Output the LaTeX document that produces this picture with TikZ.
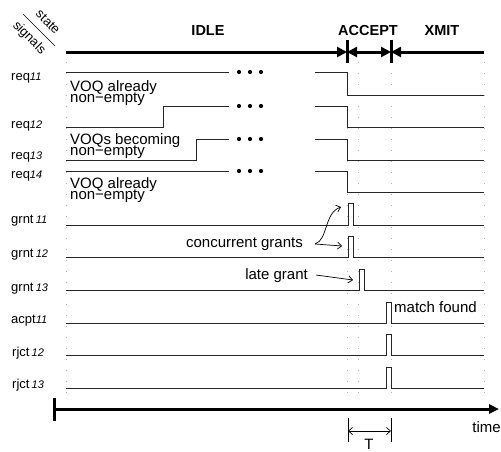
\documentclass[tikz,border=0pt]{standalone}
\usepackage{fontspec}
\setmainfont{Liberation Sans}
\usetikzlibrary{arrows.meta}
\newcommand\sigsub[1]{{\fontsize{11}{13}\selectfont\itshape #1}}
\begin{document}
\begin{tikzpicture}[x=1pt,y=-1pt,
  sig/.style={line width=0.9pt, black!85},
  gridline/.style={gray!60, line width=0.8pt, dash pattern=on 0.8pt off 10.2pt},
  lbl/.style={anchor=base west, inner sep=0pt, font=\fontsize{13}{15}\selectfont},
  ann/.style={anchor=base west, inner sep=0pt, font=\fontsize{15}{16}\selectfont},
  hdr/.style={anchor=base, inner sep=0pt, font=\fontsize{14.5}{16}\selectfont\bfseries},
  heavy/.style={line width=3pt},
  tri/.tip={Triangle[length=10pt,width=10pt]},
  sb/.tip={Straight Barb[length=4pt,width=7pt]},
  barb/.style={-{sb}, line width=0.7pt},
  dot/.style={circle, fill, inner sep=0pt, minimum size=4.2pt}
]
\useasboundingbox (0,0) rectangle (501,451);

% dotted grid
\foreach \x in {66,347,358,391,484} \draw[gridline] (\x,62) -- (\x,401);

% corner labels
\draw[line width=0.7pt] (23,14) -- (55,46);
\node[rotate=-45, inner sep=0pt, font=\fontsize{13}{15}\selectfont] (lstate) at (48,22) {state};
\node[rotate=-45, inner sep=0pt, font=\fontsize{13}{15}\selectfont] (lsignals) at (29,38) {signals};

% headers
\node[hdr] (hidle) at (208,35) {IDLE};
\node[hdr] (hacc) at (368,35) {ACCEPT};
\node[hdr] (hxmit) at (442,35) {XMIT};

% state line
\draw[heavy, -{tri}] (66,52) -- (347,52);
\draw[heavy, {tri}-{tri}] (347,52) -- (391,52);
\draw[heavy, {tri}-] (391,52) -- (484,52);
\draw[heavy] (347,40) -- (347,63);
\draw[heavy] (391,40) -- (391,63);

% signal labels
\node[lbl] (lreq11) at (11,80) {req\sigsub{11}};
\node[lbl] (lreq12) at (11,128) {req\sigsub{12}};
\node[lbl] (lreq13) at (11,159) {req\sigsub{13}};
\node[lbl] (lreq14) at (11,178) {req\sigsub{14}};
\node[lbl] (lg11) at (11,223) {grnt\,\sigsub{11}};
\node[lbl] (lg12) at (11,257) {grnt\,\sigsub{12}};
\node[lbl] (lg13) at (11,291) {grnt\,\sigsub{13}};
\node[lbl] (la11) at (11,323) {acpt\sigsub{11}};
\node[lbl] (lr12) at (12,356) {rjct\,\sigsub{12}};
\node[lbl] (lr13) at (12,388) {rjct\,\sigsub{13}};

% request waveforms
\draw[sig] (66,72) -- (229,72);
\draw[sig] (315,72) -- (347,72) -- (347,95) -- (484,95);
\draw[sig] (66,127) -- (163,127) -- (163,106) -- (229,106);
\draw[sig] (315,106) -- (347,106) -- (347,127) -- (484,127);
\draw[sig] (66,160) -- (196,160) -- (196,139) -- (229,139);
\draw[sig] (315,139) -- (347,139) -- (347,160) -- (484,160);
\draw[sig] (66,171) -- (229,171);
\draw[sig] (315,171) -- (347,171) -- (347,192) -- (484,192);
\foreach \y in {72,106,139,171}
  \foreach \x in {239,250,261} \node[dot] at (\x,\y) {};

% grant / accept / reject waveforms
\draw[sig] (66,225) -- (348,225) -- (348,203) -- (353,203) -- (353,225) -- (484,225);
\draw[sig] (66,257) -- (348,257) -- (348,236) -- (353,236) -- (353,257) -- (484,257);
\draw[sig] (66,290) -- (359,290) -- (359,269) -- (364,269) -- (364,290) -- (484,290);
\draw[sig] (66,323) -- (386,323) -- (386,302) -- (391,302) -- (391,323) -- (484,323);
\draw[sig] (66,355) -- (386,355) -- (386,334) -- (391,334) -- (391,355) -- (484,355);
\draw[sig] (66,388) -- (386,388) -- (386,367) -- (391,367) -- (391,388) -- (484,388);

% annotations
\node[ann] (voq1a) at (70,91) {VOQ already};
\node[ann] (voq1b) at (70,102) {non−empty};
\node[ann] (voq2a) at (70,144) {VOQs becoming};
\node[ann] (voq2b) at (70,155) {non−empty};
\node[ann] (voq3a) at (70,188) {VOQ already};
\node[ann] (voq3b) at (70,199) {non−empty};
\node[ann, anchor=base east] (cg) at (303,247) {concurrent grants};
\node[ann, anchor=base east] (lg) at (308,279) {late grant};
\node[ann] (mf) at (394,312) {match found};

\coordinate (cgtip1) at (342,246);
\coordinate (cgtip2) at (341,207);
\coordinate (lgtip) at (353,280);
\draw[barb] ([xshift=12pt,yshift=3pt]cg.base east) -- (cgtip1);
\draw[barb] ([xshift=12pt,yshift=3pt]cg.base east) .. controls (328,240) and (324,213) .. (cgtip2);
\draw[barb] ([xshift=8pt,yshift=4pt]lg.base east) -- (lgtip);

% time axis
\draw[heavy, -{Triangle[length=10pt,width=9pt]}] (54,409) -- (499,409);
\draw[heavy] (54,398) -- (54,421);
\node[ann, anchor=base east] (ltime) at (501,432) {time};

% T dimension
\draw[line width=0.8pt] (348,418) -- (348,442);
\draw[line width=0.8pt] (391,418) -- (391,442);
\coordinate (ta) at (348,431);
\coordinate (tb) at (391,431);
\draw[{sb}-{sb}, line width=0.7pt] (ta) -- (tb);
\node[ann, anchor=base] (lT) at (369,449) {T};
\end{tikzpicture}
\end{document}
